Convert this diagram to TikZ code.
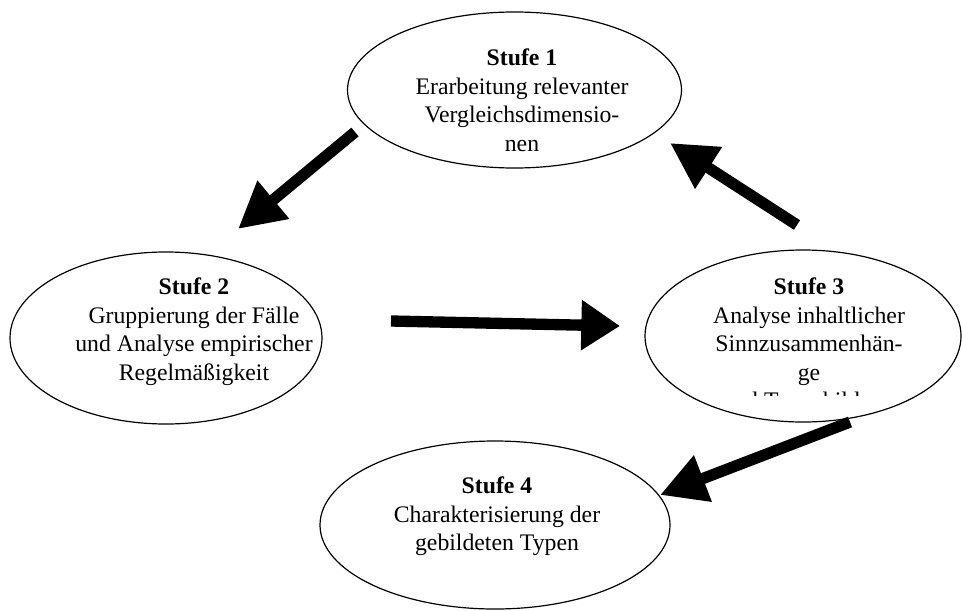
\documentclass[tikz,border=0pt]{standalone}
\usepackage{fontspec}
\setmainfont{Liberation Serif}
\usetikzlibrary{arrows.meta,shapes.geometric}
\begin{document}
\begin{tikzpicture}[x=0.75pt,y=-0.75pt,
  stage/.style={ellipse,draw,line width=0.9pt,inner sep=0pt},
  stagetext/.style={align=center,inner sep=0pt,anchor=north,
    font=\fontsize{17.8pt}{21.4pt}\selectfont},
  bigarrow/.style={line width=8.5pt,line cap=butt,
    -{Triangle[length=34.5pt,width=35pt]}}]
\useasboundingbox (0,0) rectangle (962,610);

% ellipses
\node[stage,minimum width=250.5pt,minimum height=117pt] (s1) at (514.5,90) {};
\node[stage,minimum width=234pt,minimum height=129pt] (s2) at (166,338) {};
\node[stage,minimum width=237pt,minimum height=129pt] (s3) at (803,336) {};
\node[stage,minimum width=262.5pt,minimum height=126pt] (s4) at (495,525) {};

% texts
\node[stagetext] (t1) at (522,45.4) {\strut\textbf{Stufe 1}\\Erarbeitung relevanter\\Vergleichsdimensio-\\nen};
\node[stagetext] (t2) at (194,274.4) {\strut\textbf{Stufe 2}\\Gruppierung der Fälle\\und Analyse empirischer\\Regelmäßigkeit};
\begin{scope}
  \clip (600,240) rectangle (962,395);
  \node[stagetext] (t3) at (809,274.4) {\strut\textbf{Stufe 3}\\Analyse inhaltlicher\\Sinnzusammenhän-\\ge\\und Typenbildung};
\end{scope}
\node[stagetext] (t4) at (497,473.4) {\strut\textbf{Stufe 4}\\Charakterisierung der\\gebildeten Typen};

% arrows
\coordinate (a1s) at (355,132);
\coordinate (a1e) at (238,229);
\coordinate (a2s) at (391,321);
\coordinate (a2e) at (620,326);
\coordinate (a3s) at (797,225);
\coordinate (a3e) at (670,143);
\coordinate (a4s) at (850,422);
\coordinate (a4e) at (660,495);
\draw[bigarrow] (a1s) -- (a1e);
\draw[bigarrow,-{Triangle[length=29pt,width=36pt]}] (a2s) -- (a2e);
\draw[bigarrow] (a3s) -- (a3e);
\draw[bigarrow] (a4s) -- (a4e);
\end{tikzpicture}
\end{document}
